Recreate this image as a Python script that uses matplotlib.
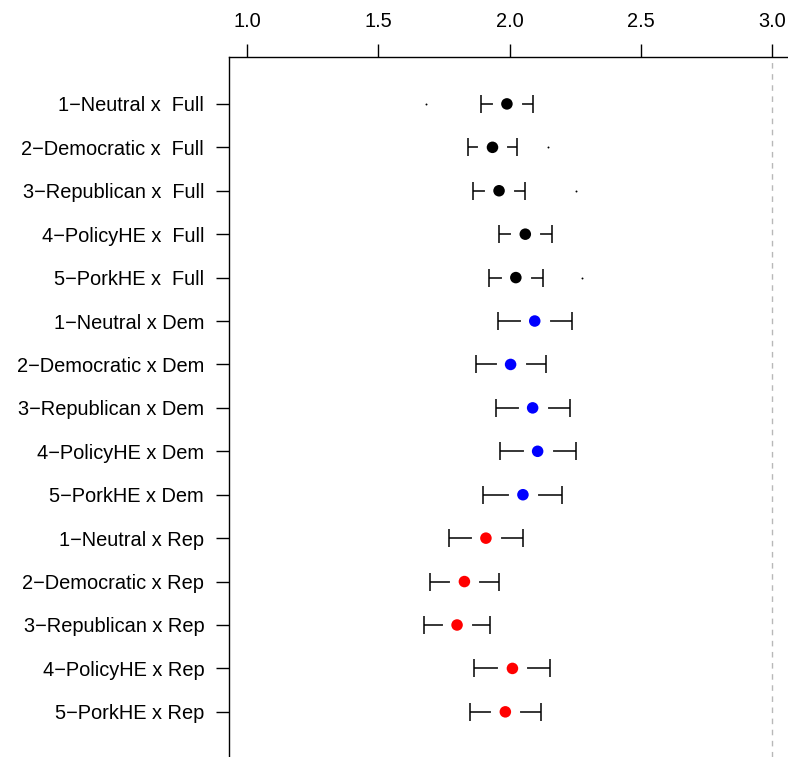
import numpy as np
import matplotlib
matplotlib.use("Agg")
import matplotlib.pyplot as plt

plt.rcParams['font.family'] = ['Liberation Sans', 'DejaVu Sans']

# row labels, top to bottom
labels = ['1\u2212Neutral x  Full', '2\u2212Democratic x  Full', '3\u2212Republican x  Full',
          '4\u2212PolicyHE x  Full', '5\u2212PorkHE x  Full',
          '1\u2212Neutral x Dem', '2\u2212Democratic x Dem', '3\u2212Republican x Dem',
          '4\u2212PolicyHE x Dem', '5\u2212PorkHE x Dem',
          '1\u2212Neutral x Rep', '2\u2212Democratic x Rep', '3\u2212Republican x Rep',
          '4\u2212PolicyHE x Rep', '5\u2212PorkHE x Rep']

est = [1.990, 1.935, 1.960, 2.060, 2.024,
       2.096, 2.004, 2.088, 2.107, 2.051,
       1.910, 1.828, 1.800, 2.011, 1.984]
lower = [1.891, 1.841, 1.862, 1.960, 1.923,
         1.955, 1.872, 1.949, 1.963, 1.900,
         1.771, 1.696, 1.673, 1.866, 1.848]
upper = [2.090, 2.028, 2.057, 2.161, 2.127,
         2.239, 2.139, 2.229, 2.252, 2.201,
         2.051, 1.960, 1.926, 2.155, 2.121]
colors = ['black'] * 5 + ['blue'] * 5 + ['red'] * 5

# small stray points in the "Full" rows (row index, value)
extra_rows = [0, 1, 2, 4]
extra_vals = [1.680, 2.146, 2.254, 2.276]

ticks = [1.0, 1.5, 2.0, 2.5, 3.0]

est = np.array(est)
lower = np.array(lower)
upper = np.array(upper)
n = len(labels)
y = np.arange(n, 0, -1)

fig = plt.figure(figsize=(7.88, 7.57), dpi=100)
ax = fig.add_axes([0.2906, 0.0, 0.7094, 0.9247])

ax.axvline(3.0, color='#b8b8b8', lw=1, ls=(0, (4, 4)), zorder=1)

ax.errorbar(est, y, xerr=[est - lower, upper - est], fmt='none', ecolor='black',
            elinewidth=1.1, capsize=6.2, capthick=1.1, zorder=2)
# white halo to open a gap around each estimate
ax.plot(est, y, 'o', color='white', ms=21, mew=0, zorder=3)
ax.scatter(est, y, s=8.3 ** 2, c=colors, edgecolors='none', zorder=4)
ax.plot(extra_vals, [y[i] for i in extra_rows], 'o', color='black', ms=1.4, mew=0, zorder=4)

ax.set_xlim(0.931, 3.061)
ax.set_ylim(-0.04, 16.08)
ax.set_yticks(y)
ax.set_yticklabels(labels)
ax.set_xticks(ticks)
ax.set_xticklabels(['%.1f' % t for t in ticks])
ax.xaxis.tick_top()
ax.tick_params(axis='x', length=9.4, width=1, pad=9, labelsize=14.4)
ax.tick_params(axis='y', length=9.4, width=1, pad=8.5, labelsize=14.4)

ax.spines['right'].set_visible(False)
ax.spines['bottom'].set_visible(False)
ax.spines['left'].set_linewidth(1)
ax.spines['top'].set_linewidth(1)

fig.savefig('out.png', dpi=100)
